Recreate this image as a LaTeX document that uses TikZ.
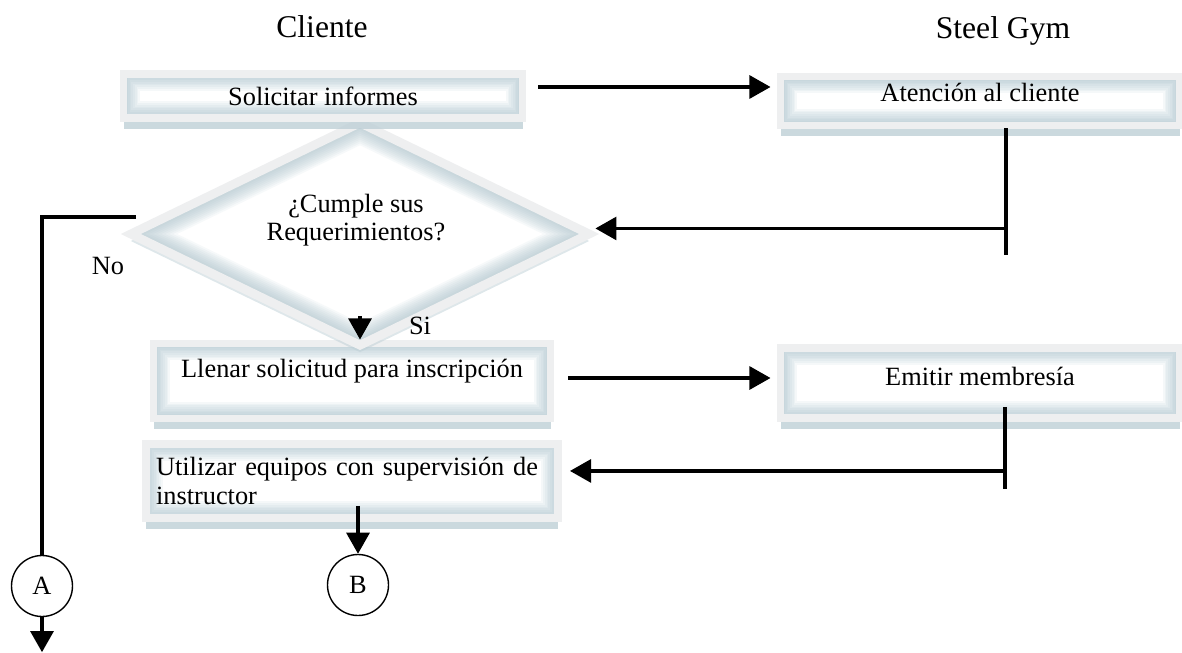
\documentclass[tikz,border=0pt]{standalone}
\usepackage{fontspec}
\setmainfont{Liberation Serif}
\usetikzlibrary{arrows.meta,calc,positioning,shapes.geometric,shadows}
\definecolor{framegray}{RGB}{238,239,240}
\definecolor{glowblue}{RGB}{165,190,200}
\definecolor{shadeblue}{RGB}{190,207,214}
\newlength{\pxu}
\setlength{\pxu}{0.02cm}
\newcommand{\boxfont}{\fontsize{15}{16}\selectfont}
\newcommand{\headfont}{\fontsize{18}{21}\selectfont}
\tikzstyle{box}=[rectangle,draw=framegray,fill=white,line width=4.5pt,inner sep=0pt,font=\boxfont,
	drop shadow={shadow xshift=0pt,shadow yshift=-6pt,fill=shadeblue,opacity=.8},
	path picture={\foreach \w in {5,7,...,19}
		\draw[glowblue,opacity=.1,line width=\w pt] (path picture bounding box.south west) rectangle (path picture bounding box.north east);}]
\tikzstyle{decision}=[diamond,draw=framegray,fill=white,line width=5pt,inner sep=0pt,
	drop shadow={shadow xshift=0pt,shadow yshift=-4pt,fill=shadeblue,opacity=.5},
	path picture={\foreach \w in {5,7,...,23}
		\draw[glowblue,opacity=.09,line width=\w pt] (path picture bounding box.west) -- (path picture bounding box.north) -- (path picture bounding box.east) -- (path picture bounding box.south) -- cycle;}]
\tikzstyle{conn}=[circle,draw,fill=white,line width=0.8pt,minimum size=61\pxu,inner sep=0pt,font=\boxfont]
\tikzstyle{flow}=[line width=2pt,-{Triangle[length=12pt,width=13pt]}]
\tikzstyle{bar}=[line width=2pt]
\tikzset{lift/.style={text height=.7em,text depth=#1}}

\begin{document}
\begin{tikzpicture}[x=0.02cm,y=-0.02cm]
\useasboundingbox (0,0) rectangle (1182,652);
% columns
\node[font=\headfont] (cli) at (322,27) {Cliente};
\node[font=\headfont] (gym) at (1003,31) {Steel Gym};

% steps
\node[box,minimum width=397\pxu,minimum height=75\pxu,lift=1.06em] (llen) at (352,381) {Llenar solicitud para inscripción};
\node[box,minimum width=412\pxu,minimum height=74\pxu,align=left,text width=392\pxu] (util) at (352,481) {Utilizar equipos con supervisión de\\instructor};
\node[box,minimum width=399\pxu,minimum height=70\pxu,lift=.4em] (emit) at (980,383) {Emitir membresía};
\node[box,minimum width=399\pxu,minimum height=49\pxu,lift=.6em] (aten) at (980,101) {Atención al cliente};
\node[decision,minimum width=462\pxu,minimum height=226\pxu] (req) at (360,234) {};
\node[box,minimum width=399\pxu,minimum height=44\pxu] (sol) at (323,96) {Solicitar informes};
\node[font=\boxfont,align=center] (reqtxt) at (356,220) {¿Cumple sus\\Requerimientos?};

\node[conn] (A) at (42,586) {A};
\node[conn] (B) at (358,585) {B};
\node[font=\boxfont] (no) at (108,266) {No};
\node[font=\boxfont] (si) at (420,326) {Si};

% solicitar -> atencion -> decision
\draw[flow] ($(sol.east)+(12,-9)$) -- ($(sol.east -| aten.west)+(-6,-9)$);
\draw[bar] ($(aten.south)+(26,-1)$) -- ++(0,127);
\coordinate (atenjoin) at ($(aten.south)+(26,99)$);
\draw[flow] (atenjoin) -- (atenjoin -| req.east);

% si / no
\coordinate (sitop) at (360,316);
\draw[flow] (sitop) -- (sitop |- llen.north);
\coordinate (nostart) at (136,217);
\draw[bar] (nostart) -| (A.north);
\draw[flow] (A.south) -- ++(0,35);

% llenar -> emitir -> utilizar
\draw[flow] ($(llen.east)+(14,-3)$) -- ($(llen.east -| emit.west)+(-6,-3)$);
\draw[bar] ($(emit.south)+(25,-15)$) -- ++(0,82);
\coordinate (emitjoin) at ($(emit.south)+(25,49)$);
\draw[flow] (emitjoin) -- ($(emitjoin -| util.east)+(8,0)$);
\draw[flow] ($(B.north)+(0,-48)$) -- (B.north);
\end{tikzpicture}
\end{document}
